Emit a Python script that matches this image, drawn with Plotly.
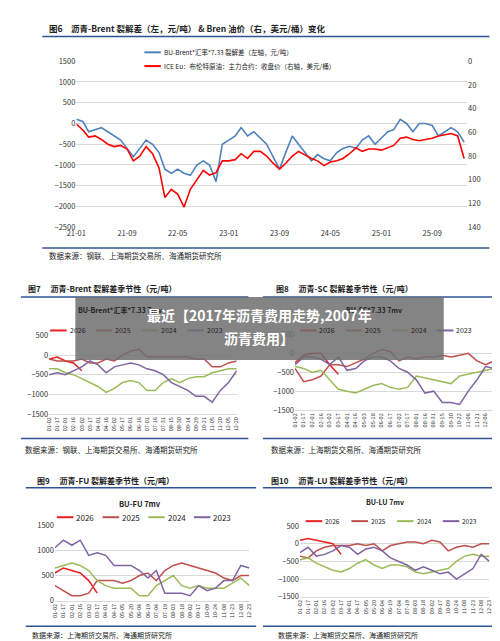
import plotly.graph_objects as go

W, H = 500, 641
FONT = "Noto Sans CJK SC"

# ---- chart 1 data (monthly) ----
months = [f"20{y}-{m:02d}-01" for y in range(21, 27) for m in range(1, 13)][:62]
bu_brent = [100, 50, -200, -150, -100, -200, -300, -400, -600, -800, -600, -400,
            -500, -700, -1100, -1200, -1100, -1200, -1250, -1000, -900, -1000, -1400, -500,
            -400, -300, -100, -300, -200, -350, -500, -800, -1100, -700, -300, -500,
            -700, -900, -750, -850, -900, -700, -600, -550, -600, -400, -300, -500,
            -350, -200, -150, 100, 0, -200, 0, 0, -50, -300, -200, -100,
            -200, -450]
brent = [53, 58, 64, 63, 66, 70, 72, 71, 74, 84, 80, 72,
         78, 90, 115, 108, 112, 123, 108, 100, 92, 96, 94, 84,
         84, 83, 78, 82, 76, 76, 80, 86, 91, 86, 80, 76,
         79, 82, 84, 88, 85, 84, 82, 78, 73, 76, 74, 74,
         75, 73, 71, 65, 64, 66, 67, 66, 65, 63, 62, 61,
         63, 82]

# ---- seasonal charts ----
ticks7 = ["01-02", "01-17", "02-01", "02-16", "03-02", "03-17", "04-01", "04-16", "05-02", "05-17",
          "06-01", "06-16", "07-01", "07-16", "07-31", "08-15", "08-30", "09-14", "09-29", "10-21",
          "11-05", "11-20", "12-05", "12-20"]
ticks8 = ["01-02", "01-17", "02-01", "02-16", "03-02", "03-17", "04-01", "04-16", "05-03", "05-18",
          "06-02", "06-17", "07-02", "07-17", "08-01", "08-16", "08-31", "09-15", "09-30", "10-22",
          "11-06", "11-21", "12-06", "12-21"]
ticks9 = ["01-02", "01-17", "02-01", "02-16", "03-02", "03-17", "04-01", "04-17", "05-05", "05-20",
          "06-04", "06-19", "07-04", "07-19", "08-03", "08-18", "09-02", "09-17", "10-09", "10-24",
          "11-08", "11-23", "12-08", "12-23"]

c7 = {
    "2026": [-100, -50, -150, -200, -400],
    "2025": [-100, -150, -150, -150, -100, -200, -200, -100, -150, 0, 100, 150,
             -50, -50, -50, -50, -50, -50, -100, -100, -300, -300, -200, -150],
    "2024": [-350, -350, -450, -500, -600, -700, -800, -950, -850, -700, -650, -700,
             -900, -900, -700, -600, -700, -600, -550, -550, -450, -400, -350, -350],
    "2023": [-500, -450, -500, -400, -300, -150, -250, -450, -300, -250, -200, -250,
             -350, -400, -500, -700, -800, -900, -1050, -1050, -1200, -900, -700, -400],
}
c8 = {
    "2026": [-250, -50, 0, 0, -300, -550],
    "2025": [-400, -750, -700, -600, -300, -300, -350, -250, -150, 0, 100, 50,
             -200, -100, -150, -100, -100, -50, -100, -50, 0, -200, -300, -200],
    "2024": [-350, -400, -500, -450, -700, -950, -1000, -1050, -950, -850, -800, -900,
             -950, -900, -600, -650, -700, -750, -800, -600, -550, -500, -450, -400],
    "2023": [-300, -100, -100, -150, -300, -100, -450, -400, -200, -100, -100, -200,
             -400, -500, -700, -1050, -1000, -1300, -1300, -1350, -1000, -700, -350, -400],
}
c9 = {
    "2026": [550, 650, 600, 550, 400, 150],
    "2025": [300, 200, 100, 100, 150, 400, 400, 400, 350, 400, 500, 550,
             400, 600, 700, 750, 700, 650, 600, 550, 450, 400, 500, 500],
    "2024": [650, 700, 750, 700, 600, 400, 300, 250, 250, 250, 100, 100,
             300, 400, 500, 300, 250, 300, 250, 250, 250, 350, 450, 300],
    "2023": [1050, 1200, 1100, 1200, 900, 950, 900, 700, 700, 700, 600, 450,
             600, 150, 150, 150, 100, 300, 200, 250, 400, 400, 700, 650],
}
c10 = {
    "2026": [100, 150, 100, 50, 0, -300],
    "2025": [-350, -400, -200, -100, -50, -50, -50, 0, -50, 0, -200, -50,
             0, 50, 50, 0, 100, 50, -200, -100, -50, -100, 0, 0],
    "2024": [-450, -400, -550, -650, -750, -800, -700, -550, -450, -600, -700, -600,
             -600, -650, -800, -850, -800, -750, -700, -500, -350, -300, -350, -350],
    "2023": [-250, -100, -350, -300, -200, -50, -100, -300, -150, -100, -200, -400,
             -500, -600, -750, -650, -750, -850, -800, -1000, -850, -700, -300, -500],
}
colors = {"2026": "#e8201f", "2025": "#c0504d", "2024": "#9bbb59", "2023": "#8064a2"}


def py(px):
    return 1 - px / H


fig = go.Figure()
fig.add_trace(go.Scatter(x=months, y=bu_brent, mode="lines", line=dict(color="#4f81bd", width=1.6),
                         xaxis="x", yaxis="y"))
fig.add_trace(go.Scatter(x=months, y=brent, mode="lines", line=dict(color="#ff0000", width=1.6),
                         xaxis="x", yaxis="y2"))

panels = [(c7, ticks7, "x2", "y3"), (c8, ticks8, "x3", "y4"), (c9, ticks9, "x4", "y5"), (c10, ticks9, "x5", "y6")]
for data, ticks, xa, ya in panels:
    for yr in ["2026", "2025", "2024", "2023"]:
        vals = data[yr]
        fig.add_trace(go.Scatter(x=ticks[:len(vals)], y=vals, mode="lines",
                                 line=dict(color=colors[yr], width=1.5), xaxis=xa, yaxis=ya))

grid = dict(showgrid=True, gridcolor="#d9d9d9", gridwidth=0.6, zeroline=False, ticks="",
            tickfont=dict(size=7.5, color="#333"))
xcat = dict(type="category", showgrid=False, tickangle=-90, tickfont=dict(size=5.5, color="#333"),
            showline=True, linecolor="#d9d9d9")

fig.update_layout(
    width=W, height=H, margin=dict(l=0, r=0, t=0, b=0), showlegend=False,
    paper_bgcolor="white", plot_bgcolor="white", font=dict(family=FONT),
    xaxis=dict(domain=[60 / W, 462 / W], anchor="y", type="date", tickformat="%y-%m",
               tick0="2021-01-01", dtick="M8", range=["2021-01-01", "2026-02-15"],
               showgrid=False, tickfont=dict(size=7.5, color="#333")),
    yaxis=dict(domain=[py(217), py(48)], range=[-2500, 1500], dtick=500, **grid),
    yaxis2=dict(overlaying="y", side="right", range=[140, 0], dtick=20, showgrid=False,
                zeroline=False, tickfont=dict(size=7.5, color="#333")),
    xaxis2=dict(domain=[32 / W, 225 / W], anchor="y3", **xcat),
    yaxis3=dict(domain=[py(407), py(327)], range=[-1500, 500], dtick=500, anchor="x2", **grid),
    xaxis3=dict(domain=[285 / W, 490 / W], anchor="y4", **xcat),
    yaxis4=dict(domain=[py(403), py(326)], range=[-1500, 500], dtick=500, anchor="x3", **grid),
    xaxis4=dict(domain=[38 / W, 238 / W], anchor="y5", **xcat),
    yaxis5=dict(domain=[py(597), py(520)], range=[0, 1500], dtick=500, anchor="x4", **grid),
    xaxis5=dict(domain=[290 / W, 485 / W], anchor="y6", **xcat),
    yaxis6=dict(domain=[py(593), py(521)], range=[-1500, 500], dtick=500, anchor="x5", **grid),
)

shapes, notes = [], []


def text(x, y, s, size=8, color="#222", anchor="left", bold=False):
    notes.append(dict(x=x / W, y=py(y), xref="paper", yref="paper", text=f"<b>{s}</b>" if bold else s,
                      showarrow=False, xanchor=anchor, yanchor="middle",
                      font=dict(size=size, color=color, family=FONT)))


def rule(x0, x1, y):
    shapes.append(dict(type="line", xref="paper", yref="paper", x0=x0 / W, x1=x1 / W, y0=py(y), y1=py(y),
                       line=dict(color="#2f5496", width=1.5)))


def legline(x, y, color, label, size=7):
    shapes.append(dict(type="line", xref="paper", yref="paper", x0=x / W, x1=(x + 17) / W, y0=py(y), y1=py(y),
                       line=dict(color=color, width=2)))
    text(x + 18, y, label, size=size)


# chart 1
text(30, 14, "图6　沥青-Brent 裂解差（左，元/吨） & Bren 油价（右，美元/桶）变化", 8.5, bold=True)
rule(25, 485, 23)
legline(130, 39, "#4f81bd", "BU-Brent*汇率*7.33 裂解差（左轴，元/吨）", 6.5)
legline(130, 53, "#ff0000", "ICE Eu：布伦特原油：主力合约：收盘价（右轴，美元/桶）", 6.5)
rule(25, 485, 238)
text(30, 246, "数据来源：钢联、上海期货交易所、海通期货研究所", 7.5)

# chart 7 / 8
text(8, 279, "图7　 沥青-Brent 裂解差季节性（元/吨）", 8, bold=True)
rule(3, 237, 288)
text(263, 279, "图8　 沥青-SC 裂解差季节性（元/吨）", 8, bold=True)
rule(252, 495, 288)
for i, yr in enumerate(["2026", "2025", "2024", "2023"]):
    legline(33 + i * 47, 322, colors[yr], yr)
    legline(290 + i * 47, 322, colors[yr], yr)
text(60, 301, "BU-Brent*汇率*7.33 7mv", 7, bold=True)
text(335, 301, "BU-SC*7.33 7mv", 7, bold=True)
rule(3, 237, 432)
rule(252, 495, 432)
text(5, 443, "数据来源：钢联、上海期货交易所、海通期货研究所", 7.5)
text(258, 443, "数据来源：上海期货交易所、海通期货研究所", 7.5)

# chart 9 / 10
text(18, 475, "图9　 沥青-FU 裂解差季节性（元/吨）", 8, bold=True)
rule(8, 245, 482)
text(258, 475, "图10　 沥青-LU 裂解差季节性（元/吨）", 8, bold=True)
rule(252, 495, 482)
text(125, 498, "BU-FU 7mv", 7.5, anchor="center", bold=True)
text(378, 497, "BU-LU 7mv", 7, anchor="center", bold=True)
for i, yr in enumerate(["2026", "2025", "2024", "2023"]):
    legline(40 + i * 47, 512, colors[yr], yr, 8)
    legline(296 + i * 47, 516, colors[yr], yr, 6.5)
rule(8, 245, 623)
rule(252, 495, 623)
text(12, 632, "数据来源：上海期货交易所、海通期货研究所", 7)
text(265, 632, "数据来源：上海期货交易所、海通期货研究所", 7)

# overlay banner
shapes.append(dict(type="rect", xref="paper", yref="paper", x0=59 / W, x1=438 / W, y0=py(352), y1=py(288),
                   fillcolor="rgba(110,110,110,0.85)", line=dict(width=0)))
text(248, 306, "最近【2017年沥青费用走势,2007年", 14, "white", "center", True)
text(248, 330, "沥青费用】", 14, "white", "center", True)

fig.update_layout(shapes=shapes, annotations=notes)
fig.write_html("out.html")
